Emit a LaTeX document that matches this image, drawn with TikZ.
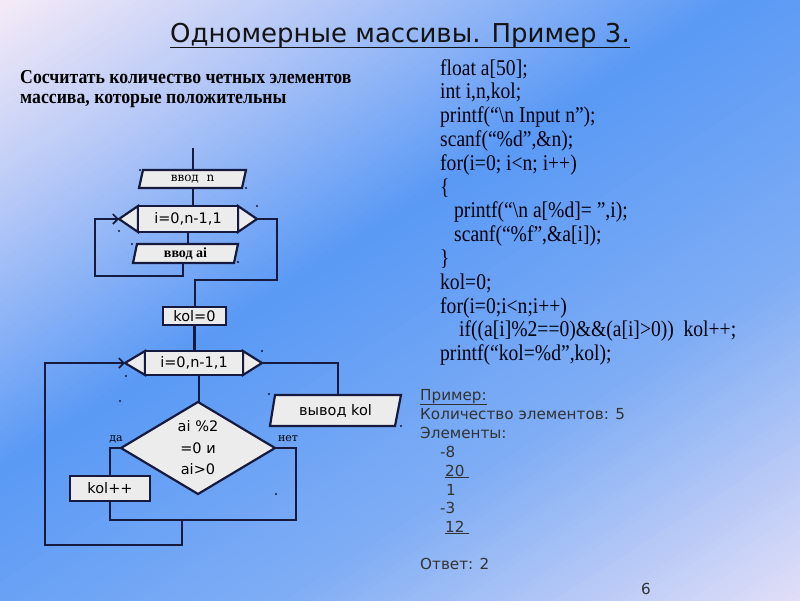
\documentclass[tikz,border=0pt]{standalone}
\usepackage{fontspec}
\setmainfont{Liberation Serif}
\newfontfamily\dvs{DejaVu Sans}
\newfontfamily\dvserif{DejaVu Serif}
\newfontfamily\codefont[FakeStretch=0.87]{Liberation Serif}
\newfontfamily\taskfont[FakeStretch=0.9]{Liberation Serif}
\usetikzlibrary{arrows.meta,calc}
\definecolor{ln}{HTML}{151A3E}
\definecolor{bxfill}{HTML}{ECECEC}
\definecolor{gzero}{rgb}{0.98,0.93,0.97}
\definecolor{gone}{rgb}{0.74,0.80,0.97}
\definecolor{gtwo}{rgb}{0.35,0.60,0.96}
\definecolor{gthree}{rgb}{0.50,0.68,0.96}
\definecolor{gfour}{rgb}{0.90,0.88,0.97}
\tikzset{
  shp/.style={draw=ln, fill=bxfill, line width=2.2pt, line join=miter},
  conn/.style={draw=ln, line width=2.2pt},
  arr/.style={conn, -{Straight Barb[length=5pt,width=10pt,line width=1.6pt]}},
  btxt/.style={inner sep=0pt, font=\dvs\fontsize{14.5}{16}\selectfont, text=black},
  code/.style={anchor=base west, inner sep=0pt, font=\codefont\fontsize{22.5}{24}\selectfont, text=black!95!blue},
  ex/.style={anchor=base west, inner sep=0pt, font=\dvs\fontsize{15.2}{17}\selectfont, text=black!80},
  dot/.style={fill=ln, draw=none},
}
\begin{document}
\begin{tikzpicture}[x=1pt,y=-1pt]
\useasboundingbox (0,0) rectangle (800,600);
% background gradient built from strips
\begin{scope}
\clip (0,0) rectangle (800,600);
\foreach \dA/\dB/\cA/\cB in {-10/160/gzero/gone, 160/400/gone/gtwo, 400/660/gtwo/gthree, 660/950/gthree/gfour}{
  \foreach \k in {0,...,39}{
    \pgfmathtruncatemacro\mixp{100-(\k+0.5)*2.5}
    \pgfmathsetmacro\stA{\dA+(\dB-\dA)*\k/40-0.6}
    \pgfmathsetmacro\stB{\dA+(\dB-\dA)*(\k+1)/40+0.6}
    \colorlet{cc}{\cA!\mixp!\cB}
    \fill[cc] ({\stA*0.539-1000*0.842},{\stA*0.842+1000*0.539}) -- ({\stA*0.539+1000*0.842},{\stA*0.842-1000*0.539}) -- ({\stB*0.539+1000*0.842},{\stB*0.842-1000*0.539}) -- ({\stB*0.539-1000*0.842},{\stB*0.842+1000*0.539}) -- cycle;
  }
}
\end{scope}
% title
\node[anchor=base, inner sep=0pt, font=\dvs\fontsize{26}{30}\selectfont, text=black!92] (title) at (400,42) {Одномерные массивы. Пример 3.};
\draw[line width=1.5pt, black!92] (title.base west)++(0,5.5) coordinate (tl) -- (title.base east |- tl);
% task
\node[anchor=base west, inner sep=0pt, font=\taskfont\bfseries\fontsize{19.7}{21}\selectfont] (task1) at (20,83) {Сосчитать количество четных элементов};
\node[anchor=base west, inner sep=0pt, font=\taskfont\bfseries\fontsize{19.7}{21}\selectfont] (task2) at (20,103) {массива, которые положительны};
% code
\node[code] (c1) at (440,75) {float a[50];};
\node[code] (c2) at (440,98.8) {int i,n,kol;};
\node[code] (c3) at (440,122.6) {printf(“\textbackslash n Input n”);};
\node[code] (c4) at (440,146.4) {scanf(“\%d”,\&n);};
\node[code] (c5) at (440,170.2) {for(i=0; i<n; i++)};
\node[code] (c6) at (440,194) {\{};
\node[code] (c7) at (454,217.8) {printf(“\textbackslash n a[\%d]= ”,i);};
\node[code] (c8) at (454,241.6) {scanf(“\%f”,\&a[i]);};
\node[code] (c9) at (440,265.4) {\}};
\node[code] (c10) at (440,289.2) {kol=0;};
\node[code] (c11) at (440,313) {for(i=0;i<n;i++)};
\node[code] (c12) at (459,336.8) {if((a[i]\%2==0)\&\&(a[i]>0))\ \ kol++;};
\node[code] (c13) at (440,360.6) {printf(“kol=\%d”,kol);};
% example
\node[ex] (e1) at (420,400) {\underline{Пример:}};
\node[ex] (e2) at (420,419) {Количество элементов: 5};
\node[ex] (e3) at (420,438) {Элементы:};
\node[ex] (e4) at (440,457) {-8};
\node[ex] (e5) at (445,476) {\underline{20\ }};
\node[ex] (e6) at (446,495) {1};
\node[ex] (e7) at (440,513) {-3};
\node[ex] (e8) at (445,532) {\underline{12\ }};
\node[ex] (e9) at (420,569) {Ответ: 2};
\node[ex] (pg) at (641,594) {6};
% ---------- flowchart ----------
\coordinate (top) at (193,148);
% input n
\draw[shp] (143,170) -- (246,170) -- (242,188) -- (139,188) -- cycle;
\node[btxt, minimum width=100pt, minimum height=18pt, font=\dvserif\fontsize{12}{14}\selectfont] (vn) at (192.5,179) {ввод\ \ n};
% loop 1
\draw[shp] (138,206) -- (119,219) -- (138,232) -- cycle;
\draw[shp] (238,206) -- (257,219) -- (238,232) -- cycle;
\draw[shp] (138,206) rectangle (238,232);
\node[btxt, minimum width=100pt, minimum height=26pt] (h1) at (188,219) {i=0,n-1,1};
\coordinate (h1l) at (119,219);
\coordinate (h1r) at (257,219);
% input ai
\draw[shp] (137,244) -- (238,244) -- (234,263) -- (133,263) -- cycle;
\node[btxt, minimum width=100pt, minimum height=19pt, font=\bfseries\fontsize{14}{16}\selectfont] (vai) at (185.5,253.5) {ввод ai};
% kol=0
\draw[shp] (163,307) rectangle (226,325);
\node[btxt, minimum width=63pt, minimum height=18pt] (k0) at (194.5,316) {kol=0};
% loop 2
\draw[shp] (145,351) -- (125,363) -- (145,375) -- cycle;
\draw[shp] (243,351) -- (262,363) -- (243,375) -- cycle;
\draw[shp] (145,351) rectangle (243,375);
\node[btxt, minimum width=98pt, minimum height=24pt] (h2) at (194,363) {i=0,n-1,1};
\coordinate (h2l) at (125,363);
\coordinate (h2r) at (262,363);
% diamond
\draw[shp] (198,402) -- (275,448) -- (198,494) -- (121,448) -- cycle;
\node[btxt, minimum width=154pt, minimum height=92pt, align=center, font=\dvs\fontsize{14.5}{21.5}\selectfont] (dm) at (198,448) {ai \%2\\=0 и\\ai>0};
\coordinate (dml) at (121,448);
\coordinate (dmr) at (275,448);
\node[inner sep=0pt, font=\dvserif\fontsize{11}{12}\selectfont] (yes) at (116,439) {да};
\node[inner sep=0pt, font=\dvserif\fontsize{11}{12}\selectfont] (no) at (288,439) {нет};
% kol++
\draw[shp] (70,476) rectangle (150,501);
\node[btxt, minimum width=80pt, minimum height=25pt] (kp) at (110,488.5) {kol++};
% output
\draw[shp] (275,395) -- (401,395) -- (395,426) -- (270,426) -- cycle;
\node[btxt, minimum width=126pt, minimum height=31pt] (out) at (335.5,410.5) {вывод kol};
% connectors
\draw[conn] (top) -- (top |- vn.north);
\draw[conn] (vn.south -| top) -- (h1.north -| top);
\draw[conn] (h1.south) -- (h1.south |- vai.north);
\draw[arr] (vai.south -| 183,0) -- (183,276) -- (95,276) -- (95,219) -- (h1l);
\draw[conn] (h1r) -- (277,219) -- (277,280) -- (195,280) -- (k0.north -| 195,0);
\draw[conn] (k0.south) -- (h2.north -| k0.south);
\draw[conn] (h2.south -| 199,0) -- (dm.north -| 199,0);
\draw[conn] (dml) -- (110,448) -- (kp.north);
\draw[conn] (kp.south) -- (110,520) -- (296,520) -- (296,448) -- (dmr);
\draw[arr] (182,520) -- (182,545) -- (45,545) -- (45,363) -- (h2l);
\draw[conn] (h2r) -- (338,363) -- (out.north -| 338,0);
% small stray dots
\foreach \p in {(140,170),(246,188),(257,206),(119,231),(132,244),(238,262),(262,351),(126,376),(120,401),(269,394),(401,426),(276,494)}
  \fill[dot] \p circle (1.1);
\end{tikzpicture}
\end{document}
